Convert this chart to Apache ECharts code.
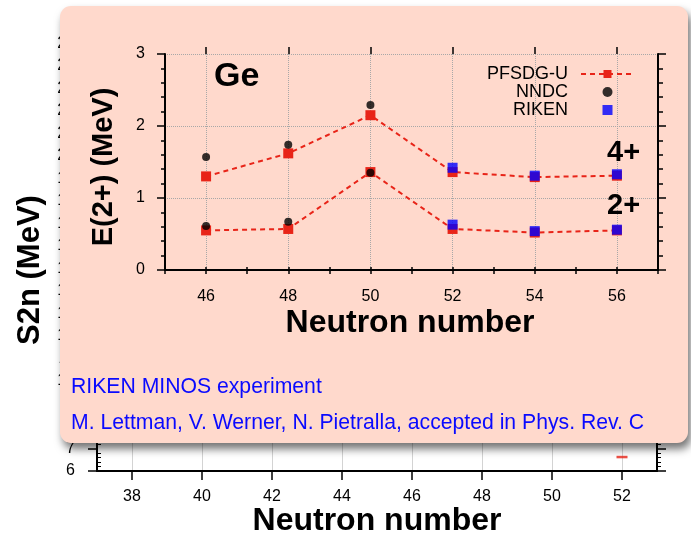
<!DOCTYPE html>
<html>
<head>
<meta charset="utf-8">
<script src="https://cdn.jsdelivr.net/npm/echarts@6/dist/echarts.min.js"></script>
<style>
html,body{margin:0;padding:0;background:#fff;}
#chart{width:691px;height:541px;}
</style>
</head>
<body>
<div id="chart"></div>
<script>
// ---------- data ----------
const innerTicks = ['45','46','47','48','49','50','51','52','53','54','55','56','57'];
const pfsdgN = ['46','48','50','52','54','56'];
const pfsdg2 = [0.55, 0.57, 1.36, 0.57, 0.52, 0.55];
const pfsdg4 = [1.30, 1.62, 2.15, 1.36, 1.29, 1.31];
const nndcN = ['46','48','50'];
const nndc2 = [0.61, 0.67, 1.35];
const nndc4 = [1.57, 1.74, 2.29];
const rikenN = ['52','54','56'];
const riken2 = [0.63, 0.54, 0.56];
const riken4 = [1.42, 1.31, 1.33];
const bgTicks = ['37','38','39','40','41','42','43','44','45','46','47','48','49','50','51','52','53'];
const bgN = ['52'];
const bgS2n = [6.62];

const FONT = "'Liberation Sans', Arial, Helvetica, sans-serif";
const RED = '#e82418';
const BLUE = '#0000ff';
const GRID_GRAY = '#a8a8a8';
const even = (i, v) => (+v) % 2 === 0;

const pairs = (xs, ys) => xs.map((x, i) => [x, ys[i]]);

const chart = echarts.init(document.getElementById('chart'), null, {renderer: 'canvas'});

const option = {
  animation: false,
  backgroundColor: '#ffffff',
  textStyle: {fontFamily: FONT},
  grid: [
    {left: 97, right: 34, top: 43.5, bottom: 70},   // background S2n chart
    {left: 165, right: 33, top: 54, bottom: 271}    // inner E(2+) chart
  ],
  xAxis: [
    {
      type: 'category', gridIndex: 0, data: bgTicks, boundaryGap: false, z: 1,
      axisLine: {lineStyle: {color: '#000', width: 2}},
      axisTick: {interval: even, length: 9, lineStyle: {color: '#000', width: 1.5}},
      axisLabel: {interval: even, fontSize: 16, color: '#000', margin: 18, fontFamily: FONT},
      splitLine: {show: true, interval: even, lineStyle: {color: GRID_GRAY, type: 'dotted', width: 1}}
    },
    {
      type: 'category', gridIndex: 1, data: innerTicks, boundaryGap: false, z: 10,
      axisLine: {lineStyle: {color: '#000', width: 2}},
      axisTick: {interval: 0, length: 4, lineStyle: {color: '#000', width: 1.5}},
      axisLabel: {interval: even, fontSize: 16, color: '#000', margin: 19, fontFamily: FONT},
      splitLine: {show: true, interval: even, lineStyle: {color: GRID_GRAY, type: 'dotted', width: 1}}
    },
    {
      type: 'category', gridIndex: 1, data: innerTicks, boundaryGap: false, position: 'top', z: 10,
      axisLine: {show: true, lineStyle: {color: '#000', width: 2}},
      axisTick: {interval: 0, length: 3, lineStyle: {color: '#000', width: 1.5}},
      axisLabel: {show: false}, splitLine: {show: false}
    },
    {
      type: 'category', gridIndex: 1, data: innerTicks, boundaryGap: false, position: 'top', z: 10,
      axisLine: {show: false},
      axisTick: {interval: even, length: 7, lineStyle: {color: '#000', width: 1.5}},
      axisLabel: {show: false}, splitLine: {show: false}
    }
  ],
  yAxis: [
    {
      type: 'value', gridIndex: 0, min: 6, max: 25, interval: 1, z: 1,
      axisLine: {show: true, lineStyle: {color: '#000', width: 2}},
      axisTick: {show: true, length: 9, lineStyle: {color: '#000', width: 1.5}},
      axisLabel: {fontSize: 16, color: '#000', margin: 22, fontFamily: FONT},
      splitLine: {show: false}
    },
    {
      type: 'value', gridIndex: 0, min: 6, max: 25, interval: 1, z: 1, position: 'left',
      axisLine: {show: false}, axisTick: {show: false, inside: true},
      minorTick: {show: true, splitNumber: 5, length: 4, lineStyle: {color: '#000', width: 1}},
      axisLabel: {show: false}, splitLine: {show: false}
    },
    {
      type: 'value', gridIndex: 0, min: 6, max: 25, interval: 1, z: 1, position: 'right',
      axisLine: {show: true, lineStyle: {color: '#000', width: 2}},
      axisTick: {show: true, length: 9, lineStyle: {color: '#000', width: 1.5}},
      minorTick: {show: true, splitNumber: 5, length: 4, lineStyle: {color: '#000', width: 1}},
      axisLabel: {show: false}, splitLine: {show: false}
    },
    {
      type: 'value', gridIndex: 1, min: 0, max: 3, interval: 1, z: 10,
      axisLine: {show: true, lineStyle: {color: '#000', width: 2}},
      axisTick: {show: true, length: 8, lineStyle: {color: '#000', width: 1.5}},
      minorTick: {show: true, splitNumber: 5, length: 4, lineStyle: {color: '#000', width: 1.5}},
      axisLabel: {fontSize: 16, color: '#000', margin: 20, fontFamily: FONT},
      splitLine: {show: true, lineStyle: {color: GRID_GRAY, type: 'dotted', width: 1}}
    },
    {
      type: 'value', gridIndex: 1, min: 0, max: 3, interval: 1, z: 10, position: 'right',
      axisLine: {show: true, lineStyle: {color: '#000', width: 2}},
      axisTick: {show: true, length: 8, lineStyle: {color: '#000', width: 1.5}},
      minorTick: {show: true, splitNumber: 5, length: 5, lineStyle: {color: '#000', width: 1.5}},
      axisLabel: {show: false}, splitLine: {show: false}
    }
  ],
  legend: {
    z: 20,
    data: [
      {name: 'PFSDG-U'},
      {name: 'NNDC', icon: 'circle'},
      {name: 'RIKEN', icon: 'path://M0,0L10,0L10,10L0,10Z'}
    ],
    right: 51, top: 60,
    orient: 'vertical', align: 'right',
    itemWidth: 53, itemHeight: 10, itemGap: 0,
    textStyle: {fontSize: 18, color: '#000', fontFamily: FONT, padding: [0, 8, 0, 0]},
    selectedMode: false
  },
  series: [
    {
      name: 'S2n', type: 'scatter', xAxisIndex: 0, yAxisIndex: 0, z: 2,
      symbol: 'rect', symbolSize: [11, 2.5], itemStyle: {color: RED},
      data: pairs(bgN, bgS2n)
    },
    {
      name: 'PFSDG-U', type: 'line', xAxisIndex: 1, yAxisIndex: 3, z: 12,
      symbol: 'rect', symbolSize: 10, showSymbol: true,
      lineStyle: {color: RED, width: 2, type: [5, 4]}, itemStyle: {color: RED},
      data: pairs(pfsdgN, pfsdg2)
    },
    {
      name: 'PFSDG-U', type: 'line', xAxisIndex: 1, yAxisIndex: 3, z: 12,
      symbol: 'rect', symbolSize: 10, showSymbol: true,
      lineStyle: {color: RED, width: 2, type: [5, 4]}, itemStyle: {color: RED},
      data: pairs(pfsdgN, pfsdg4)
    },
    {
      name: 'NNDC', type: 'scatter', xAxisIndex: 1, yAxisIndex: 3, z: 13,
      symbol: 'circle', symbolSize: 8, itemStyle: {color: '#000'},
      data: pairs(nndcN, nndc2)
    },
    {
      name: 'NNDC', type: 'scatter', xAxisIndex: 1, yAxisIndex: 3, z: 13,
      symbol: 'circle', symbolSize: 8, itemStyle: {color: '#000'},
      data: pairs(nndcN, nndc4)
    },
    {
      name: 'RIKEN', type: 'scatter', xAxisIndex: 1, yAxisIndex: 3, z: 13,
      symbol: 'rect', symbolSize: 10, itemStyle: {color: BLUE},
      data: pairs(rikenN, riken2)
    },
    {
      name: 'RIKEN', type: 'scatter', xAxisIndex: 1, yAxisIndex: 3, z: 13,
      symbol: 'rect', symbolSize: 10, itemStyle: {color: BLUE},
      data: pairs(rikenN, riken4)
    }
  ],
  graphic: [
    {
      type: 'rect', z: 5, zlevel: 0, silent: true,
      shape: {x: 60, y: 6, width: 628, height: 437, r: 11},
      style: {fill: '#ffd9cc', shadowBlur: 8, shadowOffsetX: 3, shadowOffsetY: 6, shadowColor: 'rgba(0,0,0,0.55)'}
    },
    {type: 'text', z: 20, x: 214, y: 77, style: {text: 'Ge', font: "bold 34px " + FONT, fill: '#000', textAlign: 'left', textVerticalAlign: 'middle'}},
    {type: 'text', z: 20, x: 607, y: 153, style: {text: '4+', font: "bold 29px " + FONT, fill: '#000', textAlign: 'left', textVerticalAlign: 'middle'}},
    {type: 'text', z: 20, x: 607, y: 206, style: {text: '2+', font: "bold 29px " + FONT, fill: '#000', textAlign: 'left', textVerticalAlign: 'middle'}},
    {type: 'text', z: 20, x: 104, y: 167, rotation: Math.PI / 2, style: {text: 'E(2+) (MeV)', font: "bold 29px " + FONT, fill: '#000', textAlign: 'center', textVerticalAlign: 'middle'}},
    {type: 'text', z: 20, x: 410, y: 323, style: {text: 'Neutron number', font: "bold 32px " + FONT, fill: '#000', textAlign: 'center', textVerticalAlign: 'middle'}},
    {type: 'text', z: 20, x: 71, y: 387, style: {text: 'RIKEN MINOS experiment', font: "21.2px " + FONT, fill: '#0a0aff', textAlign: 'left', textVerticalAlign: 'middle'}},
    {type: 'text', z: 20, x: 71, y: 423, style: {text: 'M. Lettman, V. Werner, N. Pietralla, accepted in Phys. Rev. C', font: "21.2px " + FONT, fill: '#0a0aff', textAlign: 'left', textVerticalAlign: 'middle'}},
    {type: 'text', z: 1, x: 30, y: 270, rotation: Math.PI / 2, style: {text: 'S2n (MeV)', font: "bold 31px " + FONT, fill: '#000', textAlign: 'center', textVerticalAlign: 'middle'}},
    {type: 'text', z: 1, x: 377, y: 521, style: {text: 'Neutron number', font: "bold 32px " + FONT, fill: '#000', textAlign: 'center', textVerticalAlign: 'middle'}}
  ]
};
chart.setOption(option);
</script>
</body>
</html>
